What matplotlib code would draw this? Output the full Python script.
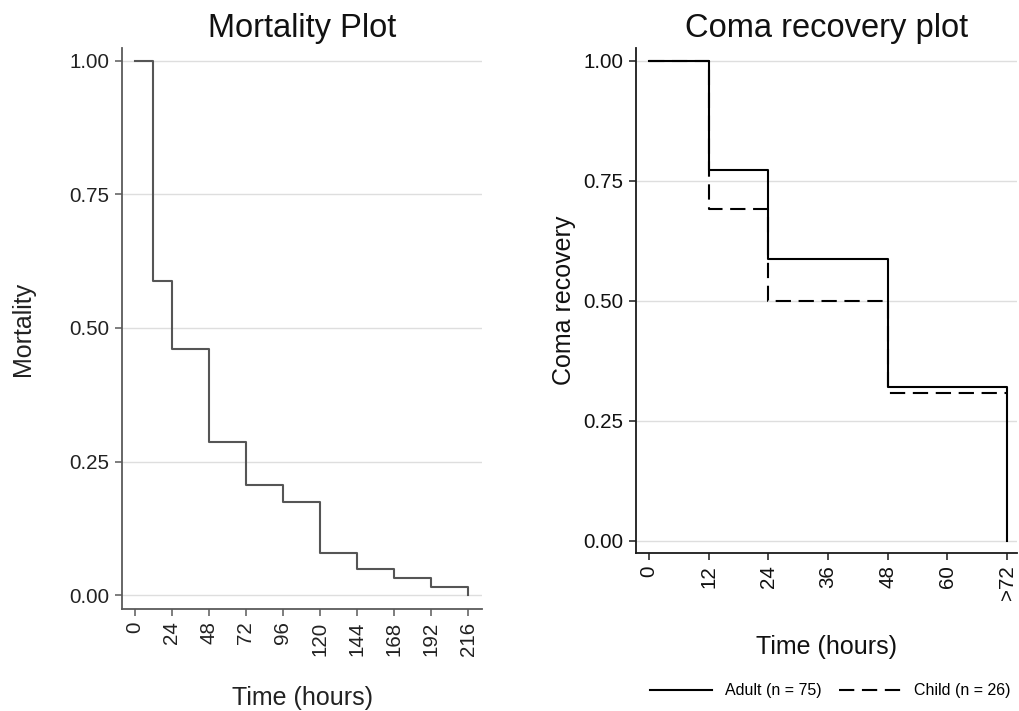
import matplotlib
matplotlib.use("Agg")
import matplotlib.pyplot as plt
from matplotlib.lines import Line2D

plt.rcParams['font.family'] = ['Liberation Sans', 'DejaVu Sans']
plt.rcParams['lines.scale_dashes'] = False

# ---- data ----
mort_time = [0, 12, 24, 48, 72, 96, 120, 144, 168, 192, 216]
mort_value = [1.0, 0.587, 0.460, 0.286, 0.206, 0.175, 0.079, 0.048, 0.032, 0.016, 0.0]
mort_xticks = [0, 24, 48, 72, 96, 120, 144, 168, 192, 216]

coma_time = [0, 12, 24, 48, 72]
adult_value = [1.0, 0.773, 0.587, 0.320, 0.0]
child_value = [1.0, 0.692, 0.500, 0.308, 0.308]
coma_xticks = [0, 12, 24, 36, 48, 60, 72]
coma_xticklabels = ['0', '12', '24', '36', '48', '60', '>72']
yticks = [0.0, 0.25, 0.5, 0.75, 1.0]
yticklabels = ['0.00', '0.25', '0.50', '0.75', '1.00']

W, H = 1019, 711
fig = plt.figure(figsize=(W / 100, H / 100), dpi=100)

def fx(px):
    return px / W

def fy(py):
    return 1 - py / H

ax1 = fig.add_axes([fx(122), fy(609), fx(482) - fx(122), fy(48) - fy(609)])
ax2 = fig.add_axes([fx(636), fy(553), fx(1017) - fx(636), fy(48) - fy(553)])

grid_color = '#dedede'
for ax, spine_col, txt_col in ((ax1, '#5a5a5a', '#222222'), (ax2, '#1a1a1a', '#111111')):
    for s in ('top', 'right'):
        ax.spines[s].set_visible(False)
    for s in ('left', 'bottom'):
        ax.spines[s].set_color(spine_col)
        ax.spines[s].set_linewidth(1.3)
    ax.set_yticks(yticks)
    ax.set_yticklabels(yticklabels)
    ax.yaxis.grid(True, color=grid_color, linewidth=1.0)
    ax.set_axisbelow(True)
    ax.tick_params(axis='both', length=5, width=1.1, color=spine_col,
                   labelsize=14.8, labelcolor=txt_col, pad=4)
    ax.tick_params(axis='x', labelrotation=90)

# Left panel
ax1.step(mort_time, mort_value, where='post', color='#555555', linewidth=1.5)
ax1.set_xlim(-8.2, 224.8)
ax1.set_ylim(-0.026, 1.024)
ax1.set_xticks(mort_xticks)
ax1.set_title('Mortality Plot', fontsize=23.5, pad=8, color='#111111')
ax1.set_ylabel('Mortality', fontsize=18, labelpad=25, color='#222222')
ax1.set_xlabel('Time (hours)', fontsize=18, labelpad=22, color='#222222')

# Right panel
ax2.step(coma_time, adult_value, where='post', color='black', linewidth=1.5)
ax2.step(coma_time, child_value, where='post', color='black', linewidth=1.5,
         dashes=(11, 5.5))
ax2.set_xlim(-2.6, 74.0)
ax2.set_ylim(-0.0256, 1.027)
ax2.set_xticks(coma_xticks)
ax2.set_xticklabels(coma_xticklabels)
ax2.set_title('Coma recovery plot', fontsize=23.5, pad=8, color='#111111')
ax2.set_ylabel('Coma recovery', fontsize=18, labelpad=5, color='#111111')
ax2.set_xlabel('Time (hours)', fontsize=18, labelpad=25, color='#111111')

handles = [Line2D([], [], color='black', linewidth=1.5),
           Line2D([], [], color='black', linewidth=1.5, dashes=(11, 5.5))]
fig.legend(handles, ['Adult (n = 75)', 'Child (n = 26)'], loc='center',
           bbox_to_anchor=(fx(830), fy(691)), ncol=2, frameon=False,
           fontsize=11.5, handlelength=3.9, handletextpad=0.8,
           columnspacing=1.1)

fig.savefig('out.png', dpi=100)
